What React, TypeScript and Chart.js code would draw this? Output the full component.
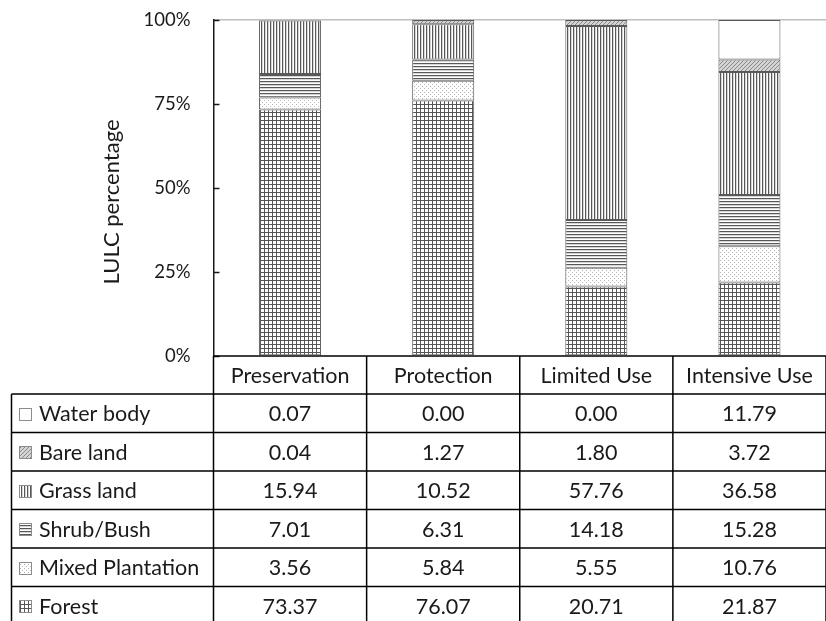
import React, { useEffect, useRef } from 'react';
import { Chart, registerables } from 'chart.js';

Chart.register(...registerables);

// LULC share (%) by management zone
const categories = ['Preservation', 'Protection', 'Limited Use', 'Intensive Use'];
const waterBody = [0.07, 0.0, 0.0, 11.79];
const bareLand = [0.04, 1.27, 1.8, 3.72];
const grassLand = [15.94, 10.52, 57.76, 36.58];
const shrubBush = [7.01, 6.31, 14.18, 15.28];
const mixedPlantation = [3.56, 5.84, 5.55, 10.76];
const forest = [73.37, 76.07, 20.71, 21.87];
const yTicks = [0, 25, 50, 75, 100];

const FONT = 'Lato, "Liberation Sans", sans-serif';
const TEXT = '#1a1a1a';
const TABLE_FONT_SIZE = 21.5;
const TITLE_FONT_SIZE = 22;
const TICK_FONT_SIZE = 18.5;

type Kind = 'water' | 'bare' | 'grass' | 'shrub' | 'mixed' | 'forest';
type Fill = CanvasPattern | string;

function makeTile(kind: Kind): HTMLCanvasElement {
  const c = document.createElement('canvas');
  const sizes: Record<Kind, [number, number]> = {
    water: [1, 1],
    bare: [4, 4],
    grass: [3, 1],
    shrub: [1, 3],
    mixed: [4, 4],
    forest: [4, 4],
  };
  const [w, h] = sizes[kind];
  c.width = w;
  c.height = h;
  const g = c.getContext('2d')!;
  g.fillStyle = '#ffffff';
  g.fillRect(0, 0, w, h);
  if (kind === 'bare') {
    g.fillStyle = '#d4d4d4';
    g.fillRect(0, 0, w, h);
    g.fillStyle = '#8a8a8a';
    for (let i = 0; i < 4; i++) g.fillRect(i, 3 - i, 1, 1);
  } else if (kind === 'grass') {
    g.fillStyle = '#575757';
    g.fillRect(0, 0, 1, 1);
    g.fillStyle = '#d6d6d6';
    g.fillRect(1, 0, 1, 1);
  } else if (kind === 'shrub') {
    g.fillStyle = '#575757';
    g.fillRect(0, 0, 1, 1);
    g.fillStyle = '#d6d6d6';
    g.fillRect(0, 1, 1, 1);
  } else if (kind === 'mixed') {
    g.fillStyle = '#b3b3b3';
    g.fillRect(0, 0, 1, 1);
    g.fillRect(2, 2, 1, 1);
  } else if (kind === 'forest') {
    g.fillStyle = '#555555';
    g.fillRect(0, 0, 4, 1);
    g.fillRect(0, 0, 1, 4);
  }
  return c;
}

function makePattern(kind: Kind): Fill {
  if (kind === 'water') return '#ffffff';
  const probe = document.createElement('canvas').getContext('2d')!;
  return probe.createPattern(makeTile(kind), 'repeat') || '#ffffff';
}

// Table rows, listed top to bottom as printed under the chart
const tableRows: { label: string; values: number[]; kind: Kind }[] = [
  { label: 'Water body', values: waterBody, kind: 'water' },
  { label: 'Bare land', values: bareLand, kind: 'bare' },
  { label: 'Grass land', values: grassLand, kind: 'grass' },
  { label: 'Shrub/Bush', values: shrubBush, kind: 'shrub' },
  { label: 'Mixed Plantation', values: mixedPlantation, kind: 'mixed' },
  { label: 'Forest', values: forest, kind: 'forest' },
];

const HEADER_H = 38;
const ROW_H = 38.5;
const TABLE_LEFT = 11.5;

function makeTablePlugin(patterns: Record<Kind, Fill>) {
  return {
    id: 'lulcTable',
    afterDraw(chart: any) {
      const { ctx, chartArea, scales } = chart;
      const left = chartArea.left;
      const right = chartArea.right;
      const bottom = chartArea.bottom;
      const colW = (right - left) / categories.length;
      const H = chart.height;

      ctx.save();

      // inside tick marks on the value axis
      ctx.strokeStyle = '#1a1a1a';
      ctx.lineWidth = 1.5;
      yTicks.forEach((v) => {
        const y = Math.round(scales.y.getPixelForValue(v)) + 0.5;
        ctx.beginPath();
        ctx.moveTo(left, y);
        ctx.lineTo(left + 6, y);
        ctx.stroke();
      });

      // axis title
      ctx.save();
      ctx.translate(112, 202);
      ctx.rotate(-Math.PI / 2);
      ctx.fillStyle = TEXT;
      ctx.font = `${TITLE_FONT_SIZE}px ${FONT}`;
      ctx.textAlign = 'center';
      ctx.textBaseline = 'middle';
      ctx.fillText('LULC percentage', 0, 0);
      ctx.restore();

      // table grid
      ctx.strokeStyle = '#000000';
      ctx.lineWidth = 1.5;
      const firstRowTop = bottom + HEADER_H;
      ctx.beginPath();
      ctx.moveTo(left, bottom);
      ctx.lineTo(right, bottom);
      for (let i = 0; i < tableRows.length; i++) {
        const y = firstRowTop + i * ROW_H;
        ctx.moveTo(TABLE_LEFT, y);
        ctx.lineTo(right, y);
      }
      ctx.moveTo(TABLE_LEFT, firstRowTop);
      ctx.lineTo(TABLE_LEFT, H);
      for (let c = 0; c <= categories.length; c++) {
        const x = left + c * colW;
        ctx.moveTo(x, bottom);
        ctx.lineTo(x, H);
      }
      ctx.stroke();

      // header labels
      ctx.fillStyle = TEXT;
      ctx.font = `${TABLE_FONT_SIZE}px ${FONT}`;
      ctx.textAlign = 'center';
      ctx.textBaseline = 'middle';
      categories.forEach((name, i) => {
        ctx.fillText(name, scales.x.getPixelForValue(i), bottom + HEADER_H / 2 + 1);
      });

      // data rows with legend keys
      tableRows.forEach((row, r) => {
        const cy = firstRowTop + r * ROW_H + ROW_H / 2 + 1;
        const kx = 19.5;
        const ky = Math.round(cy - 6.5) + 0.5;
        ctx.fillStyle = patterns[row.kind];
        ctx.fillRect(kx, ky, 12, 12);
        ctx.strokeStyle = '#8c8c8c';
        ctx.lineWidth = 1;
        ctx.strokeRect(kx, ky, 12, 12);

        ctx.fillStyle = TEXT;
        ctx.textAlign = 'left';
        ctx.fillText(row.label, 39, cy);
        ctx.textAlign = 'center';
        row.values.forEach((v, i) => {
          ctx.fillText(v.toFixed(2), scales.x.getPixelForValue(i), cy);
        });
      });

      ctx.restore();
    },
  };
}

export default function App() {
  const canvasRef = useRef<HTMLCanvasElement | null>(null);

  useEffect(() => {
    const canvas = canvasRef.current;
    if (!canvas) return;

    const patterns: Record<Kind, Fill> = {
      water: makePattern('water'),
      bare: makePattern('bare'),
      grass: makePattern('grass'),
      shrub: makePattern('shrub'),
      mixed: makePattern('mixed'),
      forest: makePattern('forest'),
    };

    // stacked bottom to top
    const stackOrder = [...tableRows].reverse();

    const chart = new Chart(canvas, {
      type: 'bar',
      data: {
        labels: categories,
        datasets: stackOrder.map((row) => ({
          label: row.label,
          data: row.values,
          backgroundColor: patterns[row.kind] as any,
          borderColor: '#595959',
          borderWidth: 1,
          borderSkipped: false,
          barPercentage: 0.405,
          categoryPercentage: 1,
        })),
      },
      options: {
        responsive: false,
        animation: false,
        devicePixelRatio: 1,
        layout: { padding: { top: 20, left: 0, right: 0, bottom: 0 } },
        plugins: {
          legend: { display: false },
          tooltip: { enabled: false },
          title: { display: false },
        },
        scales: {
          x: {
            stacked: true,
            display: true,
            ticks: { display: false },
            grid: { display: false, drawTicks: false },
            border: { display: false },
            afterFit: (s: any) => {
              s.height = 621 - 356;
            },
          },
          y: {
            stacked: true,
            min: 0,
            max: 100,
            afterBuildTicks: (s: any) => {
              s.ticks = yTicks.map((v) => ({ value: v }));
            },
            ticks: {
              padding: 0,
              color: TEXT,
              font: { family: FONT, size: TICK_FONT_SIZE },
              callback: (v: any) => `${v}%`,
            },
            grid: {
              // invisible outer tick slot keeps the labels clear of the axis
              drawTicks: true,
              tickLength: 23,
              tickColor: 'rgba(0,0,0,0)',
              lineWidth: 1.5,
              color: (c: any) => (c.tick && c.tick.value === 100 ? '#bfbfbf' : 'rgba(0,0,0,0)'),
            },
            border: { display: true, color: '#1a1a1a', width: 1.5 },
            afterFit: (s: any) => {
              s.width = 213.5;
            },
          },
        },
      },
      plugins: [makeTablePlugin(patterns)],
    });

    return () => chart.destroy();
  }, []);

  return (
    <div style={{ position: 'absolute', left: 0, top: 0, width: 826, height: 621, background: '#fff' }}>
      <canvas ref={canvasRef} width={826} height={621} />
    </div>
  );
}
